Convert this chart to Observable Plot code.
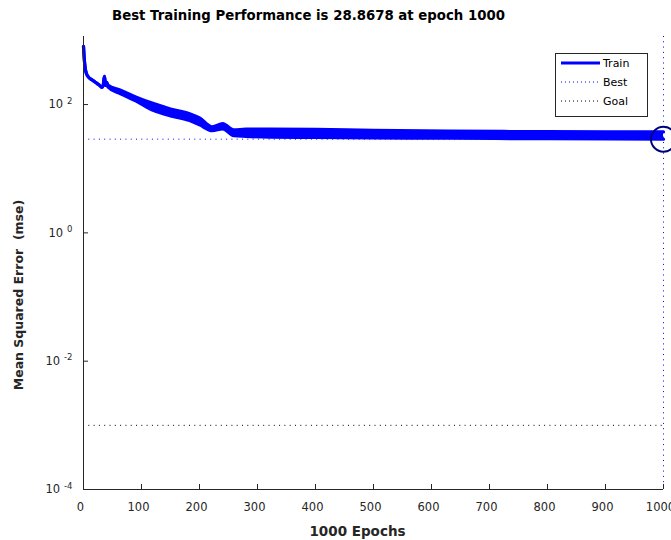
<!DOCTYPE html>
<html>
<head>
<meta charset="utf-8">
<script src="https://cdn.jsdelivr.net/npm/d3@7"></script>
<script src="https://cdn.jsdelivr.net/npm/@observablehq/plot@0.6"></script>
<style>
  html, body { margin: 0; padding: 0; background: #fff; }
  #chart svg { display: block; }
</style>
</head>
<body>
<div id="chart"></div>
<script>
// Training record: epoch, upper and lower envelope of the oscillating MSE curve
const trainEpochs = [0, 1, 2, 3, 5, 9, 15, 21, 27, 32, 34, 36, 37, 38, 40,
  42, 64, 90, 121, 150, 183, 200, 222, 240, 259, 280, 322, 400, 500, 630, 800, 1000];
const trainUpper = [806, 563, 438, 366, 306, 265, 242, 221, 202, 185, 199, 275, 238, 199, 221,
  202.4, 167.4, 131.6, 103.4, 85.5, 72.2, 61.9, 44.8, 50.4, 40.2, 41.3, 41.5, 41.0, 39.5, 38.4, 37.9, 37.4];
const trainLower = [806, 563, 438, 366, 306, 265, 242, 221, 202, 185, 199, 275, 238, 199, 221,
  188.4, 146.5, 114.0, 80.4, 66.5, 56.2, 48.2, 39.2, 41.7, 32.8, 31.9, 31.0, 30.7, 30.2, 29.9, 29.3, 28.8678];

const bestEpoch = 1000;
const bestPerf = 28.8678;
const goal = 0.001;
const totalEpochs = 1000;

const xTicks = [0, 100, 200, 300, 400, 500, 600, 700, 800, 900, 1000];
const yTicks = [1e-4, 1e-2, 1, 1e2];
const legendLabels = ["Train", "Best", "Goal"];

const train = trainEpochs.map((e, i) => ({epoch: e, hi: trainUpper[i], lo: trainLower[i]}));

const BLUE = "#0000ff";
const NAVY = "#00007f";
const INK = "#262626";
const DOTS = "1,4.3";
const FONT = "'DejaVu Sans', Verdana, sans-serif";

const chart = Plot.plot({
  width: 671,
  height: 540,
  marginLeft: 83,
  marginRight: 8,
  marginTop: 36,
  marginBottom: 51,
  style: {fontFamily: FONT, fontSize: "11.5px", color: INK, background: "#fff"},
  x: {domain: [0, totalEpochs], axis: null},
  y: {type: "log", domain: [1e-4, 1150], axis: null},
  marks: [
    // goal and best reference lines
    Plot.ruleY([goal], {stroke: "#000", strokeWidth: 1, strokeDasharray: DOTS}),
    Plot.ruleY([bestPerf], {stroke: BLUE, strokeWidth: 1, strokeDasharray: DOTS}),
    Plot.ruleX([bestEpoch], {stroke: BLUE, strokeWidth: 1, strokeDasharray: DOTS}),
    // training curve: filled oscillation band with its edges
    Plot.areaY(train, {x: "epoch", y1: "lo", y2: "hi", fill: BLUE, curve: "monotone-x"}),
    Plot.line(train, {x: "epoch", y: "hi", stroke: BLUE, strokeWidth: 3.2, curve: "monotone-x"}),
    Plot.line(train, {x: "epoch", y: "lo", stroke: BLUE, strokeWidth: 3.2, curve: "monotone-x"}),
    // best epoch marker
    Plot.dot([{epoch: bestEpoch, mse: bestPerf}], {x: "epoch", y: "mse", r: 12.5, stroke: NAVY, strokeWidth: 2, fill: "none"}),
    // axis lines and inward ticks
    Plot.ruleX([0], {stroke: INK, strokeWidth: 1}),
    Plot.ruleY([1e-4], {stroke: INK, strokeWidth: 1}),
    Plot.tickX(xTicks, {x: d => d, stroke: INK, insetTop: 448}),
    Plot.tickY(yTicks, {y: d => d, stroke: INK, insetRight: 575}),
    Plot.axisX({ticks: xTicks, tickSize: 0, tickPadding: 13, dx: -3, label: null, tickFormat: d => String(d), fill: INK}),
    Plot.axisY({ticks: yTicks, tickSize: 0, tickPadding: 11, label: null, tickFormat: d => String(Math.round(Math.log10(d))), fill: INK}),
    // titles
    Plot.text([`Best Training Performance is ${bestPerf} at epoch ${bestEpoch}`], {
      frameAnchor: "top", textAnchor: "middle", dx: -65, dy: -21, lineAnchor: "middle",
      fontWeight: "bold", fontSize: 13.3, fill: "#000"
    }),
    Plot.text([`${totalEpochs} Epochs`], {
      frameAnchor: "bottom", textAnchor: "middle", dx: -16, dy: 42, lineAnchor: "middle",
      fontWeight: "bold", fontSize: 13.5, fill: INK
    }),
    Plot.text(["Mean Squared Error \u00a0(mse)"], {
      frameAnchor: "left", textAnchor: "middle", rotate: -90, dx: -65, dy: 32, lineAnchor: "middle",
      fontWeight: "bold", fontSize: 12.5, fill: INK
    })
  ]
});

document.getElementById("chart").appendChild(chart);

// powers of ten on the y axis: "10" with a raised exponent
d3.select(chart).selectAll('g[aria-label="y-axis tick label"] text').each(function () {
  const t = d3.select(this);
  const exp = t.text();
  t.text(null);
  t.append("tspan").text("10");
  t.append("tspan").attr("dx", 4).attr("dy", "-0.55em").attr("font-size", "8.5px").text(exp);
});

// legend box
const svg = d3.select(chart);
const lg = svg.append("g").attr("font-family", FONT).attr("font-size", 11).attr("text-anchor", "start");
lg.append("rect").attr("x", 555.5).attr("y", 53.5).attr("width", 92).attr("height", 63)
  .attr("fill", "#fff").attr("stroke", INK).attr("stroke-width", 1);
const legendStyles = [
  {stroke: BLUE, width: 3, dash: null},
  {stroke: BLUE, width: 1, dash: "1,3"},
  {stroke: "#000", width: 1, dash: "1,3"}
];
legendLabels.forEach((label, i) => {
  const y = 63 + i * 19;
  const s = legendStyles[i];
  lg.append("line").attr("x1", 561).attr("x2", 600).attr("y1", y).attr("y2", y)
    .attr("stroke", s.stroke).attr("stroke-width", s.width)
    .attr("stroke-dasharray", s.dash);
  lg.append("text").attr("x", 603).attr("y", y).attr("dy", "0.35em")
    .attr("fill", "#000").text(label);
});
</script>
</body>
</html>
